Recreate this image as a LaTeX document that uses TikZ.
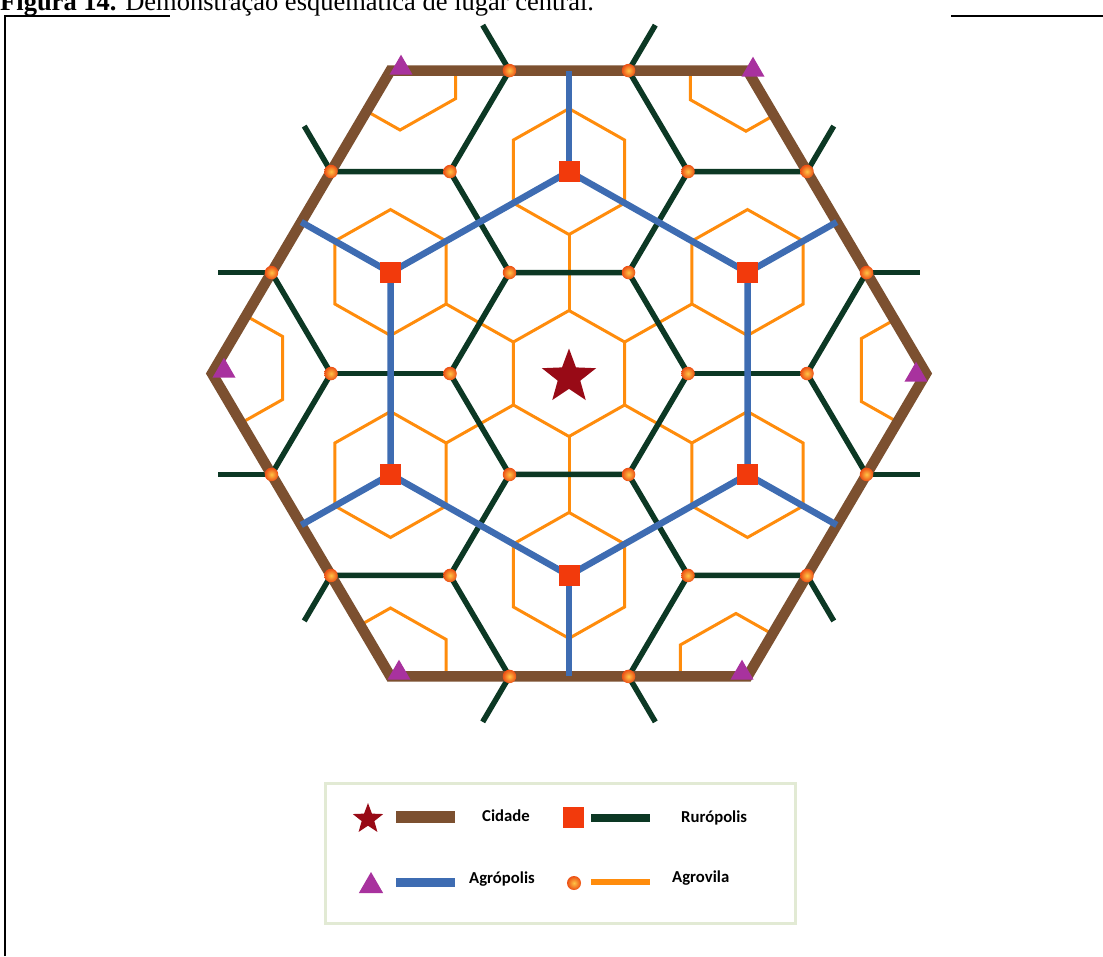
\documentclass[tikz,border=0pt]{standalone}
\usepackage{fontspec}
\setmainfont{Liberation Serif}
\newfontfamily\keyfont{Carlito}
\usetikzlibrary{shapes.geometric}

\definecolor{cidadeBrown}{RGB}{124,80,48}
\definecolor{ruroGreen}{RGB}{12,56,36}
\definecolor{agroBlue}{RGB}{62,108,178}
\definecolor{vilaOrange}{RGB}{255,140,12}
\definecolor{ruroRed}{RGB}{242,58,12}
\definecolor{cidadeRed}{RGB}{152,10,22}
\definecolor{agroPurple}{RGB}{168,50,158}
\definecolor{vilaInner}{RGB}{255,196,70}
\definecolor{vilaOuter}{RGB}{236,78,20}
\definecolor{keyFrame}{RGB}{226,234,212}

\begin{document}
\begin{tikzpicture}[x=1pt, y=-1pt,
    cidade_line/.style={draw=cidadeBrown, line width=10.5pt, line join=miter},
    agro_line/.style={draw=agroBlue, line width=6.5pt},
    ruro_line/.style={draw=ruroGreen, line width=5.5pt},
    vila_line/.style={draw=vilaOrange, line width=3pt},
    cidade_mark/.style={star, star points=5, star point ratio=2.4, fill=cidadeRed, inner sep=0pt},
    agro_mark/.style={regular polygon, regular polygon sides=3, fill=agroPurple, minimum size=26.6pt, inner sep=0pt},
    ruro_mark/.style={rectangle, fill=ruroRed, minimum size=21pt, inner sep=0pt},
    vila_mark/.style={circle, inner color=vilaInner, outer color=vilaOuter, minimum size=13.5pt, inner sep=0pt},
    key_text/.style={font=\keyfont\bfseries\fontsize{16.7}{20}\selectfont, anchor=base west, inner sep=0pt}
  ]
  \useasboundingbox[fill=white] (0,0) rectangle (1103,956);

  % Caption and frame
  \node[anchor=base west, inner sep=0pt, font=\fontsize{26.5}{30}\selectfont] (caption) at (0,10) {\textbf{Figura 14.} Demonstração esquemática de lugar central.};
  \draw[line width=2pt] (5,956) -- (5,15.5) -- (170,15.5);
  \draw[line width=2pt] (951,15.5) -- (1103,15.5);

  \begin{scope}[shift={(569pt,-373.5pt)}, x=119pt, y=116.6pt]
    % Lattice points
    \coordinate (ctr) at (0,0);
    \foreach \k in {0,...,5} {
      \coordinate (sq-\k) at (30+60*\k:1.732);
      \coordinate (em-\k) at (30+60*\k:2.598);
      \coordinate (cn-\k) at (60*\k:3);
      \coordinate (d1-\k) at (60*\k:1);
      \coordinate (d2-\k) at (60*\k:2);
      \coordinate (ra-\k) at (60*\k-19.1:2.6458);
      \coordinate (rb-\k) at (60*\k+19.1:2.6458);
    }

    % Agrovila hexagons
    \foreach \p in {ctr,sq-0,sq-1,sq-2,sq-3,sq-4,sq-5}
      \draw[vila_line] (\p) ++(90:0.54) -- ++(-30:0.54) -- ++(-90:0.54) -- ++(-150:0.54) -- ++(150:0.54) -- ++(90:0.54) -- cycle;
    \foreach \a in {30,90,...,330}
      \draw[vila_line] (\a:0.54) -- (\a:1.192);
    \begin{scope}
      \clip (cn-0) -- (cn-1) -- (cn-2) -- (cn-3) -- (cn-4) -- (cn-5) -- cycle;
      \foreach \k/\dx/\dy in {0/-0.076/0.03, 1/-0.013/0.02, 2/0.08/0.03, 3/0.126/0.047, 4/0/0.047, 5/-0.097/0}
        \draw[vila_line] (cn-\k) ++(\dx,\dy) ++(90:0.54) -- ++(-30:0.54) -- ++(-90:0.54) -- ++(-150:0.54) -- ++(150:0.54) -- ++(90:0.54) -- cycle;
    \end{scope}

    % Rurópolis network
    \draw[ruro_line] (d1-0) -- (d1-1) -- (d1-2) -- (d1-3) -- (d1-4) -- (d1-5) -- cycle;
    \foreach \k in {0,...,5} {
      \draw[ruro_line] (d1-\k) -- (d2-\k);
      \draw[ruro_line] (ra-\k) -- (d2-\k) -- (rb-\k);
      \draw[ruro_line] (ra-\k) -- ++(60*\k:0.45);
      \draw[ruro_line] (rb-\k) -- ++(60*\k:0.45);
    }

    % Cidade boundary
    \draw[cidade_line] (cn-0) -- (cn-1) -- (cn-2) -- (cn-3) -- (cn-4) -- (cn-5) -- cycle;

    % Agrópolis network
    \draw[agro_line] (sq-0) -- (sq-1) -- (sq-2) -- (sq-3) -- (sq-4) -- (sq-5) -- cycle;
    \foreach \k in {0,...,5}
      \draw[agro_line] (sq-\k) -- (em-\k);

    % Markers
    \foreach \k in {0,...,5} {
      \node[ruro_mark] (ruro-\k) at (sq-\k) {};
      \node[vila_mark] (vila-i\k) at (d1-\k) {};
      \node[vila_mark] (vila-m\k) at (d2-\k) {};
      \node[vila_mark] (vila-a\k) at (ra-\k) {};
      \node[vila_mark] (vila-b\k) at (rb-\k) {};
    }
    \node[cidade_mark, minimum size=57pt] (cidade) at (0,-0.03) {};
  \end{scope}

  \foreach \x/\y [count=\i] in {401/68, 753/70, 916/375, 742/673, 399/673, 224/371}
    \node[agro_mark] (agro-\i) at (\x,\y) {};

  % Legend
  \node[draw=keyFrame, line width=3pt, minimum width=470pt, minimum height=140pt, inner sep=0pt] (key) at (560,853) {};
  \node[cidade_mark, minimum size=32pt] (key-cidade) at (368,819) {};
  \draw[cidade_line, line width=12pt] (396,817) -- (455,817);
  \node[key_text] (lbl-cidade) at (482,821.7) {Cidade};
  \node[ruro_mark] (key-ruro) at (573.5,817) {};
  \draw[ruro_line, line width=8pt] (591,817.5) -- (650,817.5);
  \node[key_text] (lbl-ruro) at (681,822) {Rurópolis};
  \node[agro_mark, minimum size=28pt] (key-agro) at (371,886) {};
  \draw[agro_line, line width=9pt] (396,882) -- (455,882);
  \node[key_text] (lbl-agro) at (469,883.5) {Agrópolis};
  \node[vila_mark, minimum size=14pt] (key-vila) at (574,883) {};
  \draw[vila_line, line width=6pt] (591,882) -- (650,882);
  \node[key_text] (lbl-vila) at (672,882.5) {Agrovila};
\end{tikzpicture}
\end{document}
